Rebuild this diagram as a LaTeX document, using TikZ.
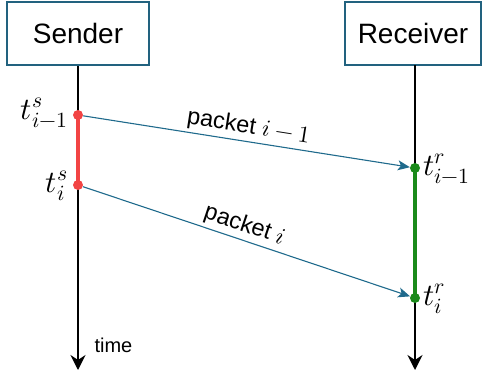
\documentclass[tikz,border=0pt]{standalone}
\usepackage{fontspec}
\usepackage{unicode-math}
\setmainfont{Liberation Sans}
\setmathfont{Latin Modern Math}
\usetikzlibrary{arrows.meta}
\definecolor{boxblue}{HTML}{22627F}
\definecolor{msgblue}{HTML}{1F6A8C}
\definecolor{sendred}{HTML}{F24444}
\definecolor{recvgreen}{HTML}{1A8A1A}
\begin{document}
\begin{tikzpicture}[x=1pt, y=-1pt,
    party/.style={draw=boxblue, line width=2pt, minimum height=63pt, font=\fontsize{28}{30}\selectfont},
    timeline/.style={line width=2pt, -{Stealth[length=15pt, width=15pt, inset=5pt]}},
    sdot/.style={circle, fill=sendred, inner sep=0pt, minimum size=10pt},
    rdot/.style={circle, fill=recvgreen, inner sep=0pt, minimum size=10pt},
    msg/.style={draw=msgblue, line width=1.1pt, -{Stealth[length=12pt, width=10pt, inset=3pt]}},
    msglabel/.style={sloped, above, inner sep=3pt, font=\fontsize{23.5}{25}\selectfont},
    stamp/.style={font=\fontsize{31}{33}\selectfont, inner sep=2pt}]
    \useasboundingbox (0,0) rectangle (482,375);
    \node [party, minimum width=142pt] (sender) at (78,33.5) {Sender};
    \node [party, minimum width=136pt] (receiver) at (413,33.5) {Receiver};
    \coordinate (sendend) at (78,370);
    \coordinate (recvend) at (415,370);
    \coordinate (recvtop) at (415,65);
    \draw [timeline] (sender.south) -- (sendend);
    \draw [timeline] (recvtop) -- (recvend);
    \node [font=\fontsize{20}{22}\selectfont, anchor=west] (time) at (91,345) {time};
    % send and receive instants
    \node [sdot] (s1) at (78,115) {};
    \node [sdot] (s2) at (78,185) {};
    \node [rdot] (r1) at (415,168) {};
    \node [rdot] (r2) at (415,298) {};
    \draw [sendred, line width=4pt] (s1.center) -- (s2.center);
    \draw [recvgreen, line width=4pt] (r1.center) -- (r2.center);
    \node [stamp, anchor=east] (ts1) at (70,113) {$t^s_{i-1}$};
    \node [stamp, anchor=east] (ts2) at (70,186) {$t^s_i$};
    \node [stamp, anchor=west] (tr1) at (421,169) {$t^r_{i-1}$};
    \node [stamp, anchor=west] (tr2) at (421,299) {$t^r_i$};
    % packets
    \draw [msg] (s1) -- node [msglabel] {packet $i-1$} (r1);
    \draw [msg] (s2) -- node [msglabel, pos=0.48] {packet $i$} (r2);
  \end{tikzpicture}
\end{document}
